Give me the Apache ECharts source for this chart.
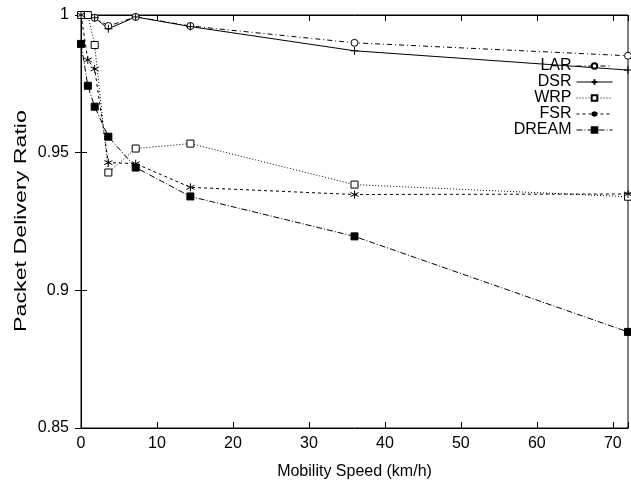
<!DOCTYPE html>
<html>
<head>
<meta charset="utf-8">
<script src="https://cdn.jsdelivr.net/npm/echarts@6/dist/echarts.min.js"></script>
<style>
    html, body { margin: 0; padding: 0; background: #fff; }
    #packet-delivery-chart { width: 631px; height: 487px; }
</style>
</head>
<body>
<div id="packet-delivery-chart"></div>
<script>
// 移动速度 (km/h)
const speeds = [0, 0.9, 1.8, 3.6, 7.2, 14.4, 36, 72];
const larData = [1.0, 1.0, 0.999, 0.996, 0.9993, 0.996, 0.9899, 0.9852];
const dsrData = [1.0, 1.0, 0.999, 0.995, 0.9993, 0.9958, 0.987, 0.980];
const wrpData = [1.0, 1.0, 0.9891, 0.9428, 0.9515, 0.9533, 0.9384, 0.934];
const fsrData = [1.0, 0.9837, 0.9804, 0.9464, 0.946, 0.9374, 0.9348, 0.935];
const dreamData = [0.9895, 0.9743, 0.9667, 0.9558, 0.9446, 0.9341, 0.9196, 0.8849];
const yTicks = [0.85, 0.9, 0.95, 1];

const chart = echarts.init(document.getElementById("packet-delivery-chart"));

const font = 'Liberation Sans, Arial, Helvetica, sans-serif';
const plusPath = 'path://M0,-5L0,5M-5,0L5,0';
const starPath = 'path://M0,-5L0,5M-4.3,-2.5L4.3,2.5M-4.3,2.5L4.3,-2.5';

function pairs(values) {
    return speeds.map(function (x, i) {
        return [x, values[i]];
    });
}

function makeSeries(name, values, dash, symbol, fill, size) {
    return {
        name: name,
        type: 'line',
        data: pairs(values),
        symbol: symbol,
        symbolSize: size,
        showSymbol: true,
        clip: false,
        animation: false,
        lineStyle: { color: '#000', width: 1, type: dash },
        itemStyle: { color: fill, borderColor: '#000', borderWidth: 1 },
        emphasis: { disabled: true }
    };
}

const option = {
    backgroundColor: '#fff',
    textStyle: { fontFamily: font, color: '#000' },
    grid: { left: 81, top: 15, right: 1, bottom: 59, show: true, borderColor: '#000', borderWidth: 1 },
    // y轴标题 (原图纵向拉伸)
    graphic: [{
        type: 'text',
        x: 22,
        y: 221,
        rotation: Math.PI / 2,
        scaleX: 1.45,
        silent: true,
        style: {
            text: 'Packet Delivery Ratio',
            font: '16px ' + font,
            fill: '#000',
            align: 'center',
            verticalAlign: 'middle'
        }
    }],
    legend: {
        orient: 'vertical',
        right: 13,
        top: 53,
        align: 'right',
        itemWidth: 36,
        itemHeight: 7,
        itemGap: 0,
        lineStyle: { width: 1 },
        textStyle: { fontSize: 16, fontFamily: font, color: '#000' },
        data: ['LAR', 'DSR', 'WRP', 'FSR', 'DREAM']
    },
    xAxis: [{
        type: 'value',
        min: 0,
        max: 72,
        interval: 10,
        name: 'Mobility Speed (km/h)',
        nameLocation: 'middle',
        nameGap: 36,
        nameTextStyle: { fontSize: 16, fontFamily: font, color: '#000' },
        axisLine: { show: true, lineStyle: { color: '#000' } },
        axisTick: { inside: true, length: 6, lineStyle: { color: '#000' } },
        axisLabel: {
            fontSize: 16, color: '#000', margin: 8, fontFamily: font,
            formatter: function (v) { return v % 10 === 0 ? String(v) : ''; }
        },
        splitLine: { show: false }
    }, {
        type: 'value',
        position: 'top',
        min: 0,
        max: 72,
        interval: 10,
        axisLine: { show: true, lineStyle: { color: '#000' } },
        axisTick: { inside: true, length: 6, lineStyle: { color: '#000' } },
        axisLabel: { show: false },
        splitLine: { show: false }
    }],
    yAxis: [{
        type: 'value',
        min: yTicks[0],
        max: yTicks[yTicks.length - 1],
        interval: 0.05,
        axisLine: { show: true, lineStyle: { color: '#000' } },
        axisTick: { inside: true, length: 6, lineStyle: { color: '#000' } },
        axisLabel: { fontSize: 16, color: '#000', margin: 12, fontFamily: font },
        splitLine: { show: false }
    }, {
        type: 'value',
        position: 'right',
        min: yTicks[0],
        max: yTicks[yTicks.length - 1],
        interval: 0.05,
        axisLine: { show: true, lineStyle: { color: '#000' } },
        axisTick: { inside: true, length: 6, lineStyle: { color: '#000' } },
        axisLabel: { show: false },
        splitLine: { show: false }
    }],
    series: [
        makeSeries('LAR', larData, [5, 3, 1, 3], 'circle', '#fff', 7),
        makeSeries('DSR', dsrData, 'solid', plusPath, '#000', 8),
        makeSeries('WRP', wrpData, [1, 2], 'rect', '#fff', 7),
        makeSeries('FSR', fsrData, [3, 3], starPath, '#000', 8),
        makeSeries('DREAM', dreamData, [6, 2, 1, 2], 'rect', '#000', 7)
    ]
};

chart.setOption(option);
</script>
</body>
</html>
